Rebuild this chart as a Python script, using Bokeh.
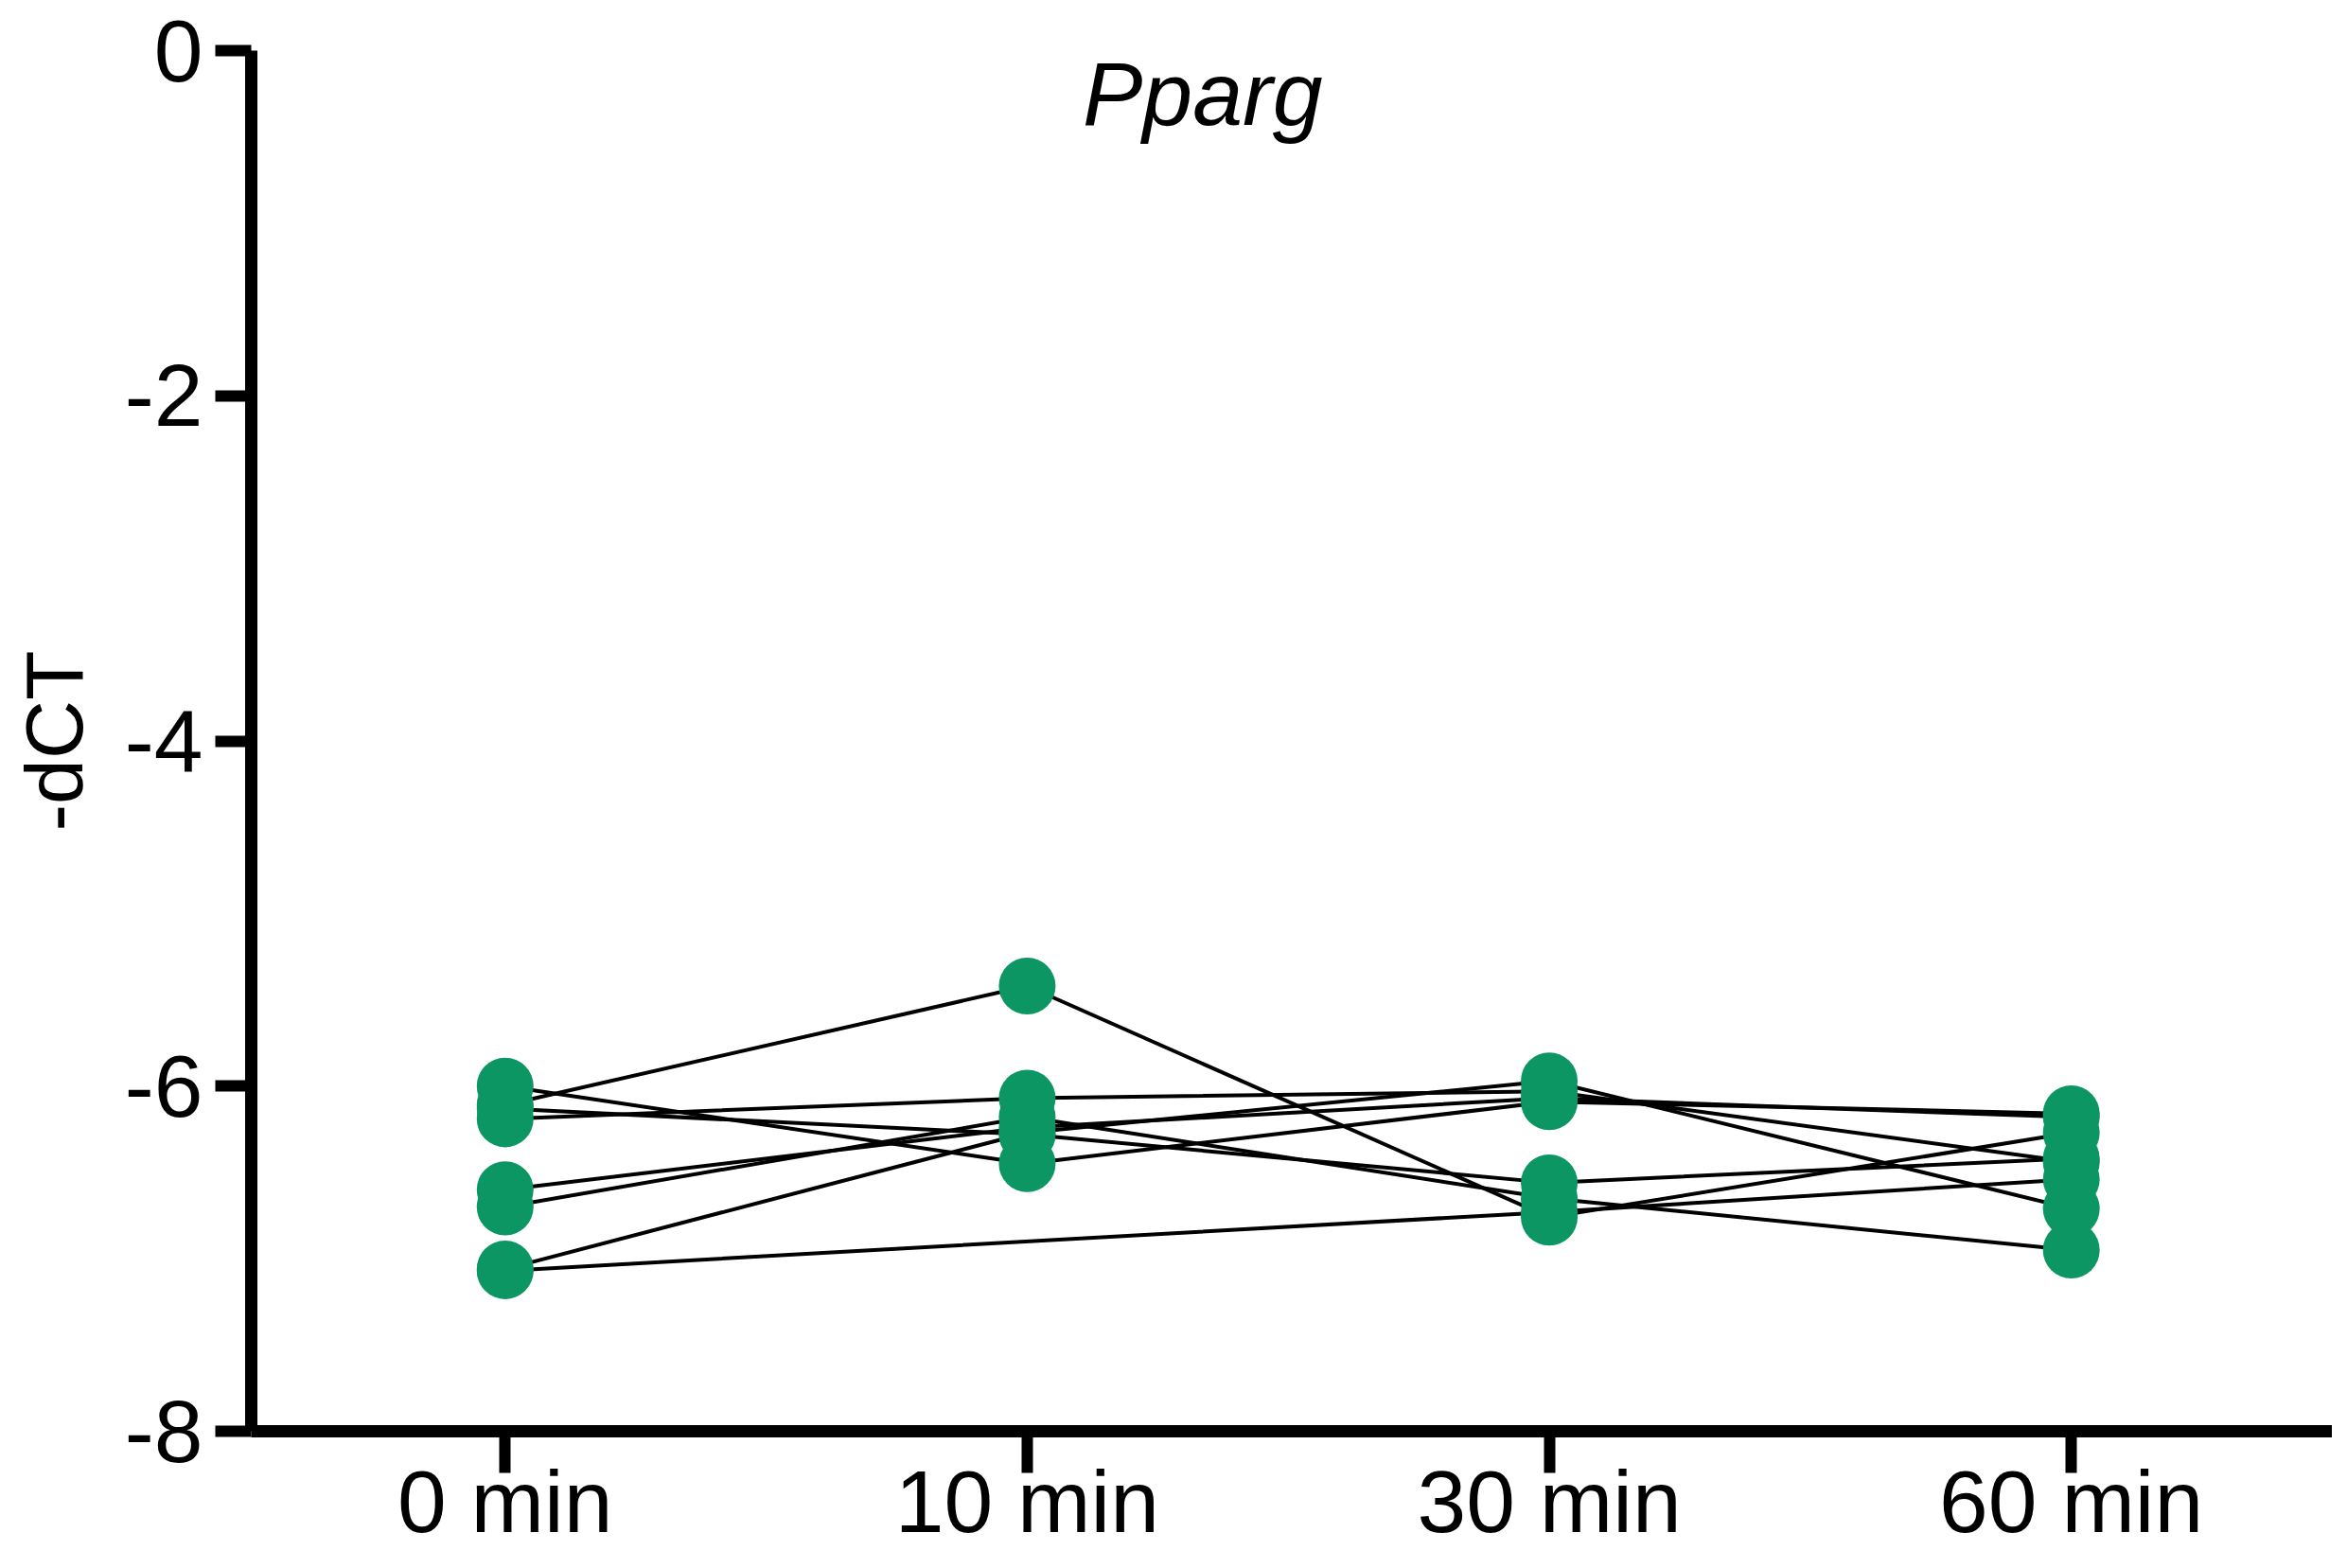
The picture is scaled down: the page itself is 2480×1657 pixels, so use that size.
from bokeh.plotting import figure
from bokeh.models import Range1d, FixedTicker, Label
from bokeh.embed import file_html
from bokeh.resources import INLINE

# ---- data ----
categories = ["0 min", "10 min", "30 min", "60 min"]
cat_pos = [0, 1, 2, 3]
y_ticks = [0, -2, -4, -6, -8]
y_tick_labels = ["0", "-2", "-4", "-6", "-8"]
title_text = "Pparg"
y_label = "-dCT"

subj_1 = [-6.00, -6.45, -6.09, -6.16]
subj_2 = [-6.11, -5.42, -6.76, -6.27]
subj_3 = [-6.19, -6.07, -6.03, -6.44]
subj_4 = [-6.13, -6.28, -6.56, -6.42]
subj_5 = [-6.60, -6.24, -6.07, -6.18]
subj_6 = [-6.70, -6.18, -6.65, -6.95]
subj_7 = [-7.06, -6.27, -5.97, -6.71]
subj_8 = [-7.07, None, -6.73, -6.54]
subjects = [subj_1, subj_2, subj_3, subj_4, subj_5, subj_6, subj_7, subj_8]

FONT = "Liberation Sans"
GREEN = "#0b9663"

p = figure(width=2464, height=1641,
           x_range=Range1d(-0.4863, 3.5), y_range=Range1d(-8, 0),
           output_backend="svg", toolbar_location=None,
           min_border_left=265, min_border_top=53,
           min_border_right=0, min_border_bottom=0)
p.grid.visible = False
p.outline_line_color = None
p.background_fill_color = "white"
p.border_fill_color = "white"

# x axis
xa = p.xaxis[0]
xa.ticker = FixedTicker(ticks=cat_pos)
xa.major_label_overrides = {k: v for k, v in zip(cat_pos, categories)}
xa.minor_tick_line_color = None
xa.major_tick_in = 0
xa.major_tick_out = 44
xa.major_tick_line_width = 12
xa.major_tick_line_color = "black"
xa.axis_line_width = 13
xa.axis_line_color = "black"
xa.major_label_text_font = FONT
xa.major_label_text_font_size = "93px"
xa.major_label_text_color = "black"
xa.major_label_standoff = -22

# y axis
ya = p.yaxis[0]
ya.ticker = FixedTicker(ticks=y_ticks)
ya.major_label_overrides = {k: v for k, v in zip(y_ticks, y_tick_labels)}
ya.minor_tick_line_color = None
ya.major_tick_in = 0
ya.major_tick_out = 38
ya.major_tick_line_width = 12
ya.major_tick_line_color = "black"
ya.axis_line_width = 13
ya.axis_line_color = "black"
ya.major_label_text_font = FONT
ya.major_label_text_font_size = "93px"
ya.major_label_text_color = "black"
ya.major_label_standoff = 13
ya.axis_label = y_label
ya.axis_label_text_font = FONT
ya.axis_label_text_font_size = "86px"
ya.axis_label_text_font_style = "normal"
ya.axis_label_text_color = "black"
ya.axis_label_standoff = 24

# connecting lines per subject (skip missing values)
for s in subjects:
    xs = [cat_pos[i] for i, v in enumerate(s) if v is not None]
    ys = [v for v in s if v is not None]
    p.line(xs, ys, line_color="black", line_width=4)

# points
px, py = [], []
for s in subjects:
    for i, v in enumerate(s):
        if v is not None:
            px.append(cat_pos[i])
            py.append(v)
p.scatter(px, py, size=60, fill_color=GREEN, line_color=None)

# italic gene title
p.add_layout(Label(x=1.336, y=-0.25, text=title_text, text_font=FONT,
                   text_font_style="italic", text_font_size="95px",
                   text_color="black", text_align="center",
                   text_baseline="alphabetic"))

open("out.html", "w").write(file_html(p, INLINE))
